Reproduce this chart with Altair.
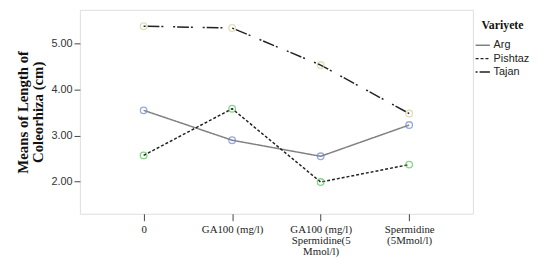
import altair as alt
import pandas as pd

categories = ["0", "GA100 (mg/l)", "GA100 (mg/l)|Spermidine(5|Mmol/l)", "Spermidine|(5Mmol/l)"]
series = ["Arg", "Pishtaz", "Tajan"]
arg = [3.55, 2.90, 2.55, 3.23]
pishtaz = [2.57, 3.585, 1.99, 2.37]
tajan = [5.38, 5.34, 4.535, 3.48]
y_ticks = [2, 3, 4, 5]

rows = []
for name, vals in zip(series, [arg, pishtaz, tajan]):
    for c, v in zip(categories, vals):
        rows.append({"cat": c, "Variyete": name, "value": v})
df = pd.DataFrame(rows)

x = alt.X("cat:N", sort=categories, title=None,
          scale=alt.Scale(type="point", padding=0.72),
          axis=alt.Axis(labelExpr="split(datum.label, '|')", labelAngle=0,
                        labelFont="Liberation Serif", labelFontSize=11, labelColor="#222",
                        tickSize=7, tickColor="#444", labelPadding=3, domain=False,
                        labelLineHeight=11))
y = alt.Y("value:Q", title=["Means of Length of", "Coleorhiza (cm)"],
          scale=alt.Scale(domain=[1.30, 5.735], nice=False, zero=False),
          axis=alt.Axis(values=y_ticks, format=".2f", grid=False, domain=False,
                        tickSize=6, tickColor="#444", labelFont="Liberation Sans",
                        labelFontSize=11, labelColor="#333", labelPadding=2,
                        titleFont="Liberation Serif", titleFontSize=15,
                        titleFontWeight="bold", titleColor="#111", titlePadding=6,
                        titleLineHeight=15))

legend_kw = dict(title="Variyete", orient="none", legendX=401, legendY=10,
                 symbolType="stroke", symbolSize=210, symbolStrokeWidth=1.5,
                 titleFont="Liberation Serif", titleFontSize=12,
                 titleFontWeight="bold", titleColor="#111", titleAnchor="middle",
                 labelFont="Liberation Sans", labelFontSize=11,
                 labelColor="#222", rowPadding=0.5, labelOffset=3,
                 titlePadding=6)

lines = alt.Chart(df).mark_line(strokeWidth=1.5).encode(
    x=x, y=y,
    color=alt.Color("Variyete:N", sort=series,
                    scale=alt.Scale(domain=series, range=["#808080", "#222222", "#222222"]),
                    legend=alt.Legend(**legend_kw)),
    strokeDash=alt.StrokeDash("Variyete:N", sort=series,
                              scale=alt.Scale(domain=series,
                                              range=[[1, 0], [3, 2], [2, 2, 12, 2, 2, 10]]),
                              legend=alt.Legend(**legend_kw)),
)

points = alt.Chart(df).mark_point(shape="circle", filled=False, size=45, strokeWidth=1.3).encode(
    x=x, y=y,
    stroke=alt.Stroke("Variyete:N", sort=series,
                      scale=alt.Scale(domain=series, range=["#6a86d8", "#55c455", "#d6d29c"]),
                      legend=None),
)

chart = alt.layer(lines, points).properties(
    width=399, height=207,
    autosize=alt.AutoSizeParams(type="none"),
    padding={"left": 73, "top": 0, "right": 61, "bottom": 43},
).configure_view(
    fill="#f0f0f0", stroke="#6e6e6e", strokeWidth=1.5
).configure(background="white")

chart.save("out.html", embed_options={"renderer": "svg", "actions": False})
